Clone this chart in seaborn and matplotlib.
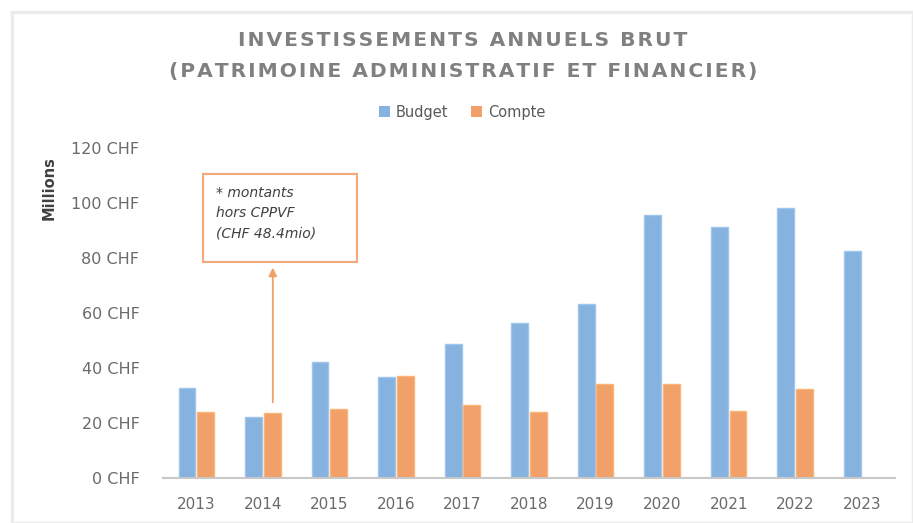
import numpy as np
import pandas as pd
import matplotlib
matplotlib.use("Agg")
import matplotlib.pyplot as plt
from matplotlib.patches import Rectangle, Patch
import seaborn as sns

years = ["2013", "2014", "2015", "2016", "2017", "2018", "2019", "2020", "2021", "2022", "2023"]
budget = [32.7, 22.3, 42.2, 36.8, 48.7, 56.2, 63.2, 95.6, 91.4, 98.1, 82.7]
compte = [24.1, 23.5, 25.1, 37.2, 26.5, 23.9, 34.2, 34.2, 24.5, 32.3, np.nan]
series_names = ["Budget", "Compte"]
y_ticks = [0, 20, 40, 60, 80, 100, 120]
y_tick_labels = [f"{v} CHF" for v in y_ticks]
title_lines = ["INVESTISSEMENTS ANNUELS BRUT", "(PATRIMOINE ADMINISTRATIF ET FINANCIER)"]
note_text = "* montants\nhors CPPVF\n(CHF 48.4mio)"

df = pd.DataFrame({
    "Année": years * 2,
    "Série": [series_names[0]] * len(years) + [series_names[1]] * len(years),
    "Montant": budget + compte,
})

sns.set_theme(style="white")
plt.rcParams["font.family"] = ["DejaVu Sans"]

blue = "#85b2de"
orange = "#f0a068"
palette = {"Budget": blue, "Compte": orange}

fig = plt.figure(figsize=(9.13, 5.23), dpi=100)
ax = fig.add_axes([163 / 913, 1 - 478 / 523, (895 - 163) / 913, (478 - 148) / 523])

sns.barplot(data=df, x="Année", y="Montant", hue="Série", palette=palette,
            width=0.56, gap=0.1, ax=ax, legend=False, saturation=1)
for p in ax.patches:
    fc = p.get_facecolor()
    p.set_edgecolor((min(1, fc[0] + 0.1), min(1, fc[1] + 0.08), min(1, fc[2] + 0.06), 1))
    p.set_linewidth(1.0)

ax.set_ylim(0, 120)
ax.set_xlim(-0.5, len(years) - 0.5)
ax.set_yticks(y_ticks)
ax.set_yticklabels(y_tick_labels)
ax.set_xlabel("")
ax.set_ylabel("Millions", fontsize=10.5, color="#404040", fontweight="bold")
ax.yaxis.set_label_coords(-0.146, 0.88)
ax.tick_params(axis="both", length=0, labelsize=11, labelcolor="#6a6a6a")
ax.tick_params(axis="y", labelsize=11.5, pad=17)
ax.tick_params(axis="x", pad=14)
for s in ["top", "right", "left"]:
    ax.spines[s].set_visible(False)
ax.spines["bottom"].set_color("#c8c8c8")
ax.spines["bottom"].set_linewidth(1.5)
ax.grid(False)

# annotation
ax.add_patch(Rectangle((0.10, 78.5), 2.32, 32, facecolor="white",
                       edgecolor="#f2a878", linewidth=1.5, zorder=5))
ax.text(0.30, 96.2, note_text, fontsize=10, fontstyle="italic", color="#404040",
        va="center", ha="left", linespacing=1.55, zorder=6)
ax.annotate("", xy=(1.15, 76.5), xytext=(1.15, 27.5),
            arrowprops=dict(arrowstyle="-|>", color="#f0a068", lw=1.3,
                            mutation_scale=12, shrinkA=0, shrinkB=0))

# title with letter spacing
hair = "\u200a"
spaced = [hair.join(list(line)) for line in title_lines]
fig.text(0.507, 1 - 40 / 523, spaced[0], ha="center", va="center",
         fontsize=14.6, fontweight="bold", color="#808080")
fig.text(0.507, 1 - 72 / 523, spaced[1], ha="center", va="center",
         fontsize=14.6, fontweight="bold", color="#808080")

# legend
handles = [Patch(facecolor=palette[n], edgecolor="none", label=n) for n in series_names]
fig.legend(handles=handles, loc="center", bbox_to_anchor=(0.506, 1 - 112 / 523),
           ncol=2, frameon=False, fontsize=10.5, handlelength=0.75, handleheight=0.75,
           handletextpad=0.4, columnspacing=1.6, labelcolor="#595959")

# faint outer border
fig.add_artist(Rectangle((12 / 913, 0), 1 - 12 / 913, 1 - 12 / 523,
                         transform=fig.transFigure, fill=False,
                         edgecolor="#ececec", linewidth=2.5))

fig.savefig("out.png", dpi=100)
